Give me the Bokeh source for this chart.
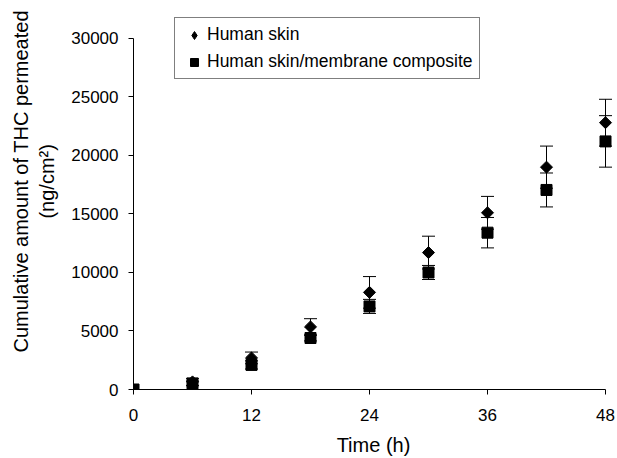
import math
from bokeh.plotting import figure
from bokeh.models import (ColumnDataSource, Range1d, FixedTicker, Whisker, TeeHead,
                          NumeralTickFormatter, Legend, LegendItem)
from bokeh.embed import file_html
from bokeh.resources import INLINE

# Data
time_h = [0, 6, 12, 18, 24, 30, 36, 42, 48]
skin = [0, 650, 2700, 5350, 8300, 11700, 15100, 19000, 22800]
skin_err = [0, 300, 500, 700, 1350, 1400, 1400, 1800, 2000]
composite = [0, 520, 2100, 4400, 7100, 10000, 13400, 17050, 21200]
composite_err = [0, 200, 350, 250, 600, 600, 1300, 1450, 2200]

x_ticks = [0, 12, 24, 36, 48]
y_ticks = [0, 5000, 10000, 15000, 20000, 25000, 30000]

label_skin = "Human skin"
label_comp = "Human skin/membrane composite"
x_title = "Time (h)"
NB = "\u00a0" * 6   # lifts the y title a little above the frame centre, as in the reference
y_title = NB + "Cumulative amount of THC permeated\n" + NB + "(ng/cm\u00b2)"

FONT = "Liberation Sans"

X_MIN, X_MAX = 0, 48
Y_MIN, Y_MAX = 0, 30000
PX_PER_H = 472 / 48.0
PX_PER_Y = 352 / 30000.0
x_pad = 8 / PX_PER_H          # room so the 48 h markers are not clipped
y_pad_top = 32 / PX_PER_Y     # room for the legend above the 30000 line

src_skin = ColumnDataSource(dict(
    x=time_h, y=skin,
    upper=[v + e for v, e in zip(skin, skin_err)],
    lower=[v - e for v, e in zip(skin, skin_err)],
))
src_comp = ColumnDataSource(dict(
    x=time_h, y=composite,
    upper=[v + e for v, e in zip(composite, composite_err)],
    lower=[v - e for v, e in zip(composite, composite_err)],
))

p = figure(width=617, height=458,
           x_range=Range1d(X_MIN, X_MAX + x_pad),
           y_range=Range1d(Y_MIN, Y_MAX + y_pad_top),
           output_backend="svg", toolbar_location=None,
           min_border_left=133, min_border_right=4,
           min_border_top=6, min_border_bottom=68)
p.outline_line_color = None
p.xgrid.visible = False
p.ygrid.visible = False
p.background_fill_color = "white"
p.border_fill_color = "white"

for src in (src_skin, src_comp):
    w = Whisker(source=src, base="x", upper="upper", lower="lower",
                line_color="black", line_width=1,
                upper_head=TeeHead(size=13, line_color="black", line_width=1),
                lower_head=TeeHead(size=13, line_color="black", line_width=1))
    p.add_layout(w)

r_skin = p.scatter("x", "y", source=src_skin, marker="square", angle=math.pi / 4,
                   size=8.5, fill_color="black", line_color="black")
r_comp = p.scatter("x", "y", source=src_comp, marker="square",
                   size=11, fill_color="black", line_color="black")
# legend swatch for the diamonds (legend swatches ignore the marker angle);
# it has no visible point of its own
r_skin_key = p.scatter(x=[float("nan")], y=[float("nan")], marker="diamond",
                       size=10, fill_color="black", line_color="black")

# Axes
p.xaxis.ticker = FixedTicker(ticks=x_ticks)
p.yaxis.ticker = FixedTicker(ticks=y_ticks)
p.yaxis.formatter = NumeralTickFormatter(format="0")
p.xaxis.bounds = (X_MIN, X_MAX)
p.yaxis.bounds = (Y_MIN, Y_MAX)
for ax in (p.xaxis[0], p.yaxis[0]):
    ax.axis_line_color = "black"
    ax.axis_line_width = 1
    ax.major_tick_line_color = "black"
    ax.major_tick_out = 5
    ax.major_tick_in = 0
    ax.minor_tick_line_color = None
    ax.major_label_text_font = FONT
    ax.major_label_text_font_size = "17px"
    ax.major_label_text_color = "black"
    ax.major_label_standoff = 10
    ax.axis_label_text_font = FONT
    ax.axis_label_text_font_style = "normal"
    ax.axis_label_text_color = "black"

p.xaxis.major_label_standoff = 14
p.xaxis.axis_label = x_title
p.xaxis.axis_label_text_font_size = "20px"
p.xaxis.axis_label_standoff = 10
p.yaxis.axis_label = y_title
p.yaxis.axis_label_text_font_size = "20px"
p.yaxis.axis_label_standoff = 10

# Legend
lg = Legend(items=[LegendItem(label=label_skin, renderers=[r_skin_key]),
                   LegendItem(label=label_comp, renderers=[r_comp])])
lg.location = (41, 310)
lg.border_line_color = "black"
lg.border_line_width = 1
lg.background_fill_color = "white"
lg.background_fill_alpha = 1
lg.padding = 6
lg.spacing = 6
lg.margin = 0
lg.glyph_width = 26
lg.glyph_height = 20
lg.label_height = 20
lg.label_standoff = 0
lg.label_text_font = FONT
lg.label_text_font_size = "17.5px"
lg.label_text_color = "black"
p.add_layout(lg, "center")

open("out.html", "w").write(file_html(p, INLINE))
